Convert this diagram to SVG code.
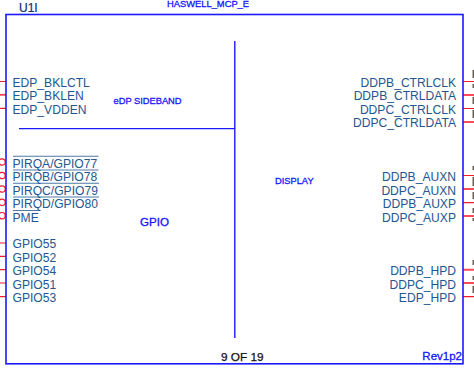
<svg xmlns="http://www.w3.org/2000/svg" width="474" height="373" viewBox="0 0 474 373">
<style>
text{font-family:"Liberation Sans",Arial,sans-serif}
.p{font-size:12.1px;fill:#23568f}
.e{text-anchor:end}
.t{font-size:9.3px;fill:#1414ff;stroke:#1414ff;stroke-width:.3}
.b{stroke:#1a1aff;fill:none}
.w{stroke:#f01c2c;stroke-width:1.2;fill:none}
.x{stroke:#fb4a58;stroke-width:1.9;fill:none}
.o{stroke:#4f7aa8;stroke-width:1.1;fill:none}
.f{fill:#6a6258}
</style>
<rect width="474" height="373" fill="#fff"/>
<g id="connectors">
<path class="w" d="M0 81.500H6M0 108.300H6M0 243H6M0 256.300H6M0 269.700H6M0 283H6M0 296.700H6"/>
<path class="x" d="M0 94.800H6"/>
<path class="w" d="M463 81.500H474M463 108.500H474M463 175.500H474M463 202.700H474M463 296.700H474"/>
<path class="x" d="M463 95H474M463 122H474M463 189H474M463 216H474M463 269.700H474M463 283H474"/>
<circle class="w" cx="2" cy="162" r="3.200"/><circle class="w" cx="2" cy="175.500" r="3.200"/><circle class="w" cx="2" cy="189" r="3.200"/><circle class="w" cx="2" cy="202.300" r="3.200"/><circle class="w" cx="2" cy="215.700" r="3.200"/>
</g>
<g id="u1i">
<rect class="b" stroke-width="1.6" x="6" y="14.500" width="457" height="349.300"/>
<path class="b" stroke-width="1.4" d="M234.800 41V338M19 128.600H235"/>
<text x="19" y="12" font-size="12" fill="#0e2f6e" stroke="#0e2f6e" stroke-width=".2">U1I</text>
<text class="t" x="167" y="7" style="font-size:9.350px">HASWELL_MCP_E</text>
<text class="t" x="113.500" y="104">eDP SIDEBAND</text>
<text class="t" x="275" y="184">DISPLAY</text>
<text class="t" x="140" y="226" style="font-size:11.600px">GPIO</text>
<text x="221" y="361" font-size="11.800" fill="#111" stroke="#111" stroke-width=".25">9 OF 19</text>
<text class="t e" x="462" y="360" style="font-size:11.500px">Rev1p2</text>
</g>
<g id="pins-left">
<path class="o" d="M13 156.300H98.500M13 170H98.500M13 183.300H99M13 197H99M13 210.500H39"/>
<text class="p" x="12.500" y="86.500">EDP_BKLCTL</text>
<text class="p" x="12.500" y="100">EDP_BKLEN</text>
<text class="p" x="12.500" y="113.500">EDP_VDDEN</text>
<text class="p" x="12.500" y="168">PIRQA/GPIO77</text>
<text class="p" x="12.500" y="181">PIRQB/GPIO78</text>
<text class="p" x="12.500" y="194.500">PIRQC/GPIO79</text>
<text class="p" x="12.500" y="208">PIRQD/GPIO80</text>
<text class="p" x="12.500" y="221.500">PME</text>
<text class="p" x="12.500" y="248">GPIO55</text>
<text class="p" x="12.500" y="261.500">GPIO52</text>
<text class="p" x="12.500" y="275">GPIO54</text>
<text class="p" x="12.500" y="288.500">GPIO51</text>
<text class="p" x="12.500" y="301.500">GPIO53</text>
</g>
<g id="pins-right">
<text class="p e" x="456" y="86.500">DDPB_CTRLCLK</text>
<text class="p e" x="456" y="100">DDPB_CTRLDATA</text>
<text class="p e" x="456" y="113.500">DDPC_CTRLCLK</text>
<text class="p e" x="456" y="127">DDPC_CTRLDATA</text>
<text class="p e" x="456" y="181">DDPB_AUXN</text>
<text class="p e" x="456" y="194.500">DDPC_AUXN</text>
<text class="p e" x="456" y="208">DDPB_AUXP</text>
<text class="p e" x="456" y="221.500">DDPC_AUXP</text>
<text class="p e" x="456" y="275">DDPB_HPD</text>
<text class="p e" x="456" y="288.500">DDPC_HPD</text>
<text class="p e" x="456" y="301.500">EDP_HPD</text>
</g>
<g id="clipped-edge">
<path class="f" d="M472.500 70h1.500v8h-1.500zM472.500 84h1.500v4h-1.500zM472.500 97h1.500v7h-1.500zM472.500 110h1.500v8h-1.500zM472.500 166h1.500v4h-1.500zM472.500 177h1.500v9h-1.500zM472.500 192h1.500v7h-1.500zM472.500 208h1.500v5h-1.500zM472.500 218h1.500v3h-1.500zM472.500 260h1.500v5h-1.500zM472.500 276h1.500v4h-1.500zM472.500 286h1.500v7h-1.500z"/>
</g>
</svg>
